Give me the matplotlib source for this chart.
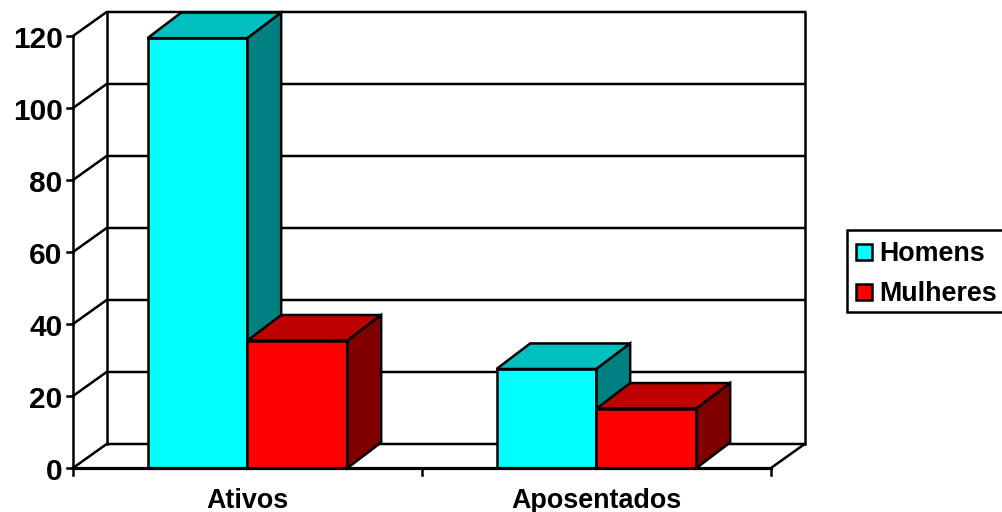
import matplotlib
matplotlib.use("Agg")
import matplotlib.pyplot as plt
from matplotlib.patches import Polygon, Rectangle

# Chart data
categories = ["Ativos", "Aposentados"]
series_names = ["Homens", "Mulheres"]
homens = [119.4, 27.5]
mulheres = [35.4, 16.5]
y_ticks = [0, 20, 40, 60, 80, 100, 120]

# Face colours: front, top, side
CYAN = ("#00FFFF", "#00BFBF", "#008080")
RED = ("#FF0000", "#BF0000", "#800000")

FONT = "Liberation Sans"
BAR_W = 0.2865
DX = 0.0965   # depth along x, category units
DY = 6.67     # wall depth along y, value units
BAR_DY = 7.1  # bar depth along y
LW = 1.8


def draw_bar(ax, x, value, colors, z):
    """One 3D-looking bar: front, top and side faces."""
    x2 = x + BAR_W
    faces = [
        ([(x, 0), (x2, 0), (x2, value), (x, value)], colors[0]),
        ([(x, value), (x2, value), (x2 + DX, value + BAR_DY), (x + DX, value + BAR_DY)], colors[1]),
        ([(x2, 0), (x2 + DX, BAR_DY), (x2 + DX, value + BAR_DY), (x2, value)], colors[2]),
    ]
    for pts, col in faces:
        ax.add_patch(Polygon(pts, closed=True, facecolor=col, edgecolor="black",
                             linewidth=LW, joinstyle="miter", zorder=z, clip_on=False))


fig = plt.figure(figsize=(10.03, 5.12), dpi=100)
W, H = 1003, 512
ax = fig.add_axes([73 / W, (H - 468) / H, (771 - 73) / W, (468 - 36) / H])
ax.set_xlim(0, len(categories))
ax.set_ylim(0, 120)
ax.axis("off")

line = dict(color="black", linewidth=LW, clip_on=False, zorder=1, solid_capstyle="projecting")

# Walls, gridlines and floor
for t in y_ticks:
    ax.plot([0, DX, 2 + DX], [t, t + DY, t + DY], **line)
    ax.plot([-0.016, 0], [t, t], **line)
    ax.text(-0.0295, t - 3.2, str(t), ha="right", va="baseline", family=FONT,
            fontweight="bold", fontsize=21.5, clip_on=False)
ax.plot([0, 0], [0, 120], **line)
ax.plot([DX, DX], [DY, 120 + DY], **line)
ax.plot([2 + DX, 2 + DX], [DY, 120 + DY], **line)
ax.plot([2, 2 + DX], [0, DY], **line)

# Bars, back to front
for i in range(len(categories)):
    start = i + 0.5 - BAR_W
    draw_bar(ax, start, homens[i], CYAN, 2 + i)
    draw_bar(ax, start + BAR_W, mulheres[i], RED, 2.5 + i)

# Front edge of the floor and category ticks
ax.plot([0, 2], [0, 0], color="black", linewidth=2.3, clip_on=False, zorder=6)
for x in range(len(categories) + 1):
    ax.plot([x, x], [0, -1.9], **line)
for i, name in enumerate(categories):
    ax.text(i + 0.5, -11.0, name, ha="center", va="baseline", family=FONT,
            fontweight="bold", fontsize=19.4, clip_on=False)

# Legend laid out in pixels, its right edge runs off the figure
lax = fig.add_axes([0, 0, 1, 1])
lax.set_xlim(0, W)
lax.set_ylim(H, 0)
lax.axis("off")
lax.add_patch(Rectangle((847, 230), 170, 82, facecolor="white", edgecolor="black", linewidth=LW))
for name, col, top in zip(series_names, [CYAN[0], RED[0]], [243.5, 283.5]):
    lax.add_patch(Rectangle((856, top), 16.5, 16.5, facecolor=col, edgecolor="black", linewidth=LW))
    lax.text(879.5, top + 17.5, name, ha="left", va="baseline", family=FONT,
             fontweight="bold", fontsize=19.4)

fig.savefig("out.png", dpi=100)
